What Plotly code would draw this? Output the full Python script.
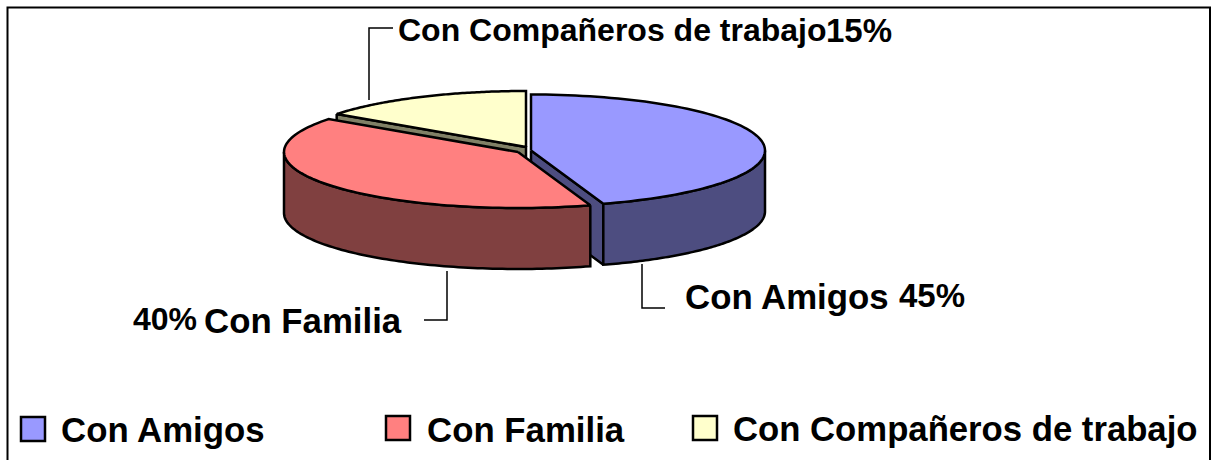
import numpy as np
import plotly.graph_objects as go

categories = ["Con Amigos", "Con Familia", "Con Compañeros de trabajo"]
shares = [45, 40, 15]
share_labels = ["45%", "40%", "15%"]

top_colors = ["#9999FF", "#FF8080", "#FFFFCC"]
side_colors = ["#4D4D80", "#804040", "#808066"]

W, H = 1214, 460
RX, RY, DEPTH = 234, 56, 61
centers = [(531, 150.5), (518, 152), (526, 147)]

# slice angles measured clockwise from 12 o'clock
edges = np.cumsum([0] + shares) / sum(shares) * 360.0


def rim(cx, cy, a0, a1, dz=0.0, n=90):
    t = np.radians(np.linspace(a0, a1, n))
    return cx + RX * np.sin(t), cy - RY * np.cos(t) + dz


def poly(xs, ys, fill):
    return go.Scatter(
        x=np.asarray(xs), y=np.asarray(ys), mode="lines", fill="toself",
        fillcolor=fill, line=dict(color="#000000", width=2.5, simplify=False),
        hoverinfo="skip", showlegend=False,
    )


fig = go.Figure()

# Compañeros: cut face under the front edge
cx, cy = centers[2]
ex, ey = rim(cx, cy, edges[2], edges[2], n=1)
fig.add_trace(poly([ex[0], cx, cx, ex[0], ex[0]],
                   [ey[0], cy, cy + DEPTH, ey[0] + DEPTH, ey[0]], side_colors[2]))

# Amigos: cut face and outer wall
cx, cy = centers[0]
ex, ey = rim(cx, cy, edges[1], edges[1], n=1)
fig.add_trace(poly([cx, ex[0], ex[0], cx, cx],
                   [cy, ey[0], ey[0] + DEPTH, cy + DEPTH, cy], side_colors[0]))
x1, y1 = rim(cx, cy, 90, edges[1])
x2, y2 = rim(cx, cy, edges[1], 90, DEPTH)
fig.add_trace(poly(np.r_[x1, x2, x1[0]], np.r_[y1, y2, y1[0]], side_colors[0]))

# Familia: outer wall
cx, cy = centers[1]
x1, y1 = rim(cx, cy, edges[1], 270)
x2, y2 = rim(cx, cy, 270, edges[1], DEPTH)
fig.add_trace(poly(np.r_[x1, x2, x1[0]], np.r_[y1, y2, y1[0]], side_colors[1]))

# Top faces
for i in range(3):
    cx, cy = centers[i]
    x, y = rim(cx, cy, edges[i], edges[i + 1])
    fig.add_trace(poly(np.r_[cx, x, cx], np.r_[cy, y, cy], top_colors[i]))

# Leader lines
leaders = [
    ([642, 642, 665], [264, 308, 308]),
    ([447, 447, 424], [271, 320, 320]),
    ([369, 369, 393], [100, 28, 28]),
]
for lx, ly in leaders:
    fig.add_trace(go.Scatter(x=lx, y=ly, mode="lines", hoverinfo="skip", showlegend=False,
                             line=dict(color="#000000", width=1.5)))

# Legend swatches
fig.add_trace(go.Scatter(
    x=[33, 398, 705], y=[429, 428, 428], mode="markers", hoverinfo="skip", showlegend=False,
    marker=dict(symbol="square", size=24, color=top_colors,
                line=dict(color="#000000", width=2.5)),
))

FONT = "Liberation Sans"


def label(text, x, y, size, anchor="left"):
    fig.add_annotation(x=x, y=y, text=f"<b>{text}</b>", showarrow=False, xanchor=anchor,
                       yanchor="middle", xref="x", yref="y", borderpad=0, borderwidth=0,
                       font=dict(family=FONT, size=size, color="#000000"))


label(categories[0], 61, 429, 34.8)
label(categories[1], 427, 429, 34.8)
label(categories[2], 733, 429, 34.7)
label(categories[2], 398, 30, 32)
label(share_labels[2], 826, 30, 33)
label(categories[0], 685, 296, 34.8)
label(share_labels[0], 899, 295, 33)
label(categories[1], 204, 320, 34.8)
label(share_labels[1], 133, 319, 32)

# Chart frame: the picture is cut off before the frame's lower edge
fig.add_shape(type="rect", x0=7.5, y0=7.5, x1=1210, y1=H + 10, xref="x", yref="y",
              line=dict(color="#000000", width=2), layer="below")

hidden = dict(visible=False, showgrid=False, zeroline=False, fixedrange=True)
fig.update_layout(
    width=W, height=H, margin=dict(l=0, r=0, t=0, b=0),
    paper_bgcolor="#FFFFFF", plot_bgcolor="#FFFFFF", showlegend=False,
    xaxis=dict(range=[0, W], **hidden),
    yaxis=dict(range=[H, 0], **hidden),
)
fig.write_html("out.html", config=dict(displayModeBar=False),
               post_script="document.body.style.margin='0';document.body.style.overflow='hidden';")
